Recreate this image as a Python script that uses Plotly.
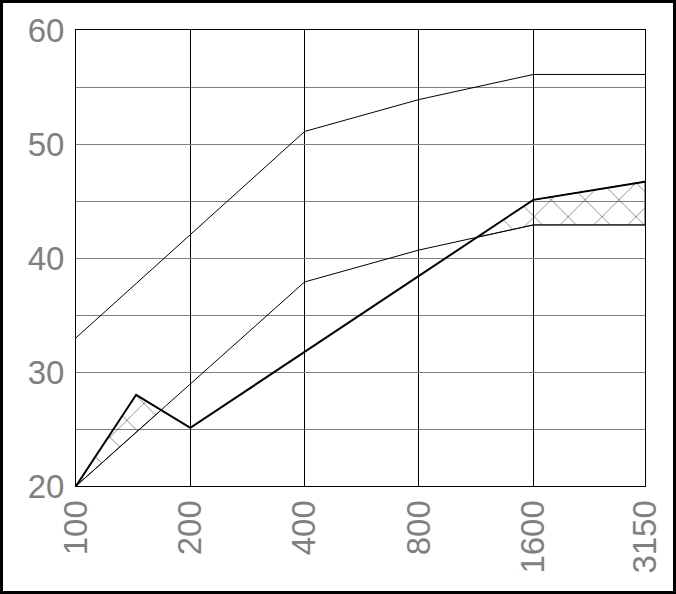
import numpy as np
import plotly.graph_objects as go

# frequency axis
freq_ticks = [100, 200, 400, 800, 1600, 3150]
tick_text = ['100', '200', '400', '800', '1600', '3150']

# upper thin curve
upper_x = [100, 400, 800, 1600, 3150]
upper_y = [33.0, 51.1, 53.9, 56.1, 56.1]

# lower thin curve (reference)
ref_x = [100, 400, 800, 1600, 3150]
ref_y = [20.0, 37.9, 40.7, 42.9, 42.9]

# thick curve (measured)
meas_x = [100, 144, 200, 1600, 3150]
meas_y = [20.0, 28.0, 25.1, 45.1, 46.7]

W, H = 676, 594
L, R, T, B = 76, 31, 30, 108


def interp_log(xs, ys, xq):
    return np.interp(np.log10(xq), np.log10(xs), ys)


def hatch_regions(ax, ay, bx, by):
    """regions where curve a is above curve b, as closed polygons"""
    u = np.union1d(np.log10(ax), np.log10(bx))
    da = np.interp(u, np.log10(ax), ay) - np.interp(u, np.log10(bx), by)
    pts = [(u[0], da[0])]
    for i in range(1, len(u)):
        if da[i - 1] * da[i] < 0:
            t = da[i - 1] / (da[i - 1] - da[i])
            pts.append((u[i - 1] + t * (u[i] - u[i - 1]), 0.0))
        pts.append((u[i], da[i]))
    regions, cur = [], []
    for uu, d in pts:
        if d >= -1e-9:
            cur.append(uu)
        else:
            if len(cur) > 1:
                regions.append(cur)
            cur = []
    if len(cur) > 1:
        regions.append(cur)
    polys = []
    for reg in regions:
        xu = 10 ** np.array(reg)
        top = interp_log(ax, ay, xu)
        bot = interp_log(bx, by, xu)
        polys.append((np.concatenate([xu, xu[::-1]]),
                      np.concatenate([top, bot[::-1]])))
    return polys


fig = go.Figure()

for px, py in hatch_regions(meas_x, meas_y, ref_x, ref_y):
    fig.add_trace(go.Scatter(
        x=px, y=py, mode='lines', fill='toself',
        line=dict(width=1, color='#444444'),
        fillcolor='rgba(0,0,0,0)',
        fillpattern=dict(shape='x', size=24, solidity=0.08,
                         fgcolor='#222222', bgcolor='rgba(0,0,0,0)'),
        hoverinfo='skip', showlegend=False
    ))

fig.add_trace(go.Scatter(x=upper_x, y=upper_y, mode='lines',
                         line=dict(color='black', width=1), showlegend=False))
fig.add_trace(go.Scatter(x=ref_x, y=ref_y, mode='lines',
                         line=dict(color='black', width=1), showlegend=False))
fig.add_trace(go.Scatter(x=meas_x, y=meas_y, mode='lines',
                         line=dict(color='black', width=2), showlegend=False))

pw, ph = W - L - R, H - T - B
fig.add_shape(type='rect', xref='paper', yref='paper',
              x0=(-L + 1.5) / pw, x1=(W - L - 1.5) / pw,
              y0=(-B + 1.5) / ph, y1=(H - B - 1.5) / ph,
              line=dict(color='black', width=3), layer='above')

fig.update_layout(
    width=W, height=H,
    margin=dict(l=L, r=R, t=T, b=B, autoexpand=False),
    paper_bgcolor='white', plot_bgcolor='white',
    font=dict(family='Liberation Sans', color='#808080', size=33),
    xaxis=dict(
        type='log', range=[2, np.log10(3150)], automargin=False,
        tickvals=freq_ticks, ticktext=tick_text, tickangle=-90,
        showgrid=True, gridcolor='black', gridwidth=1,
        showline=True, linecolor='black', linewidth=1, mirror=True,
        zeroline=False, ticks='', ticklabelstandoff=0
    ),
    yaxis=dict(
        range=[20, 60], tickvals=[20, 30, 40, 50, 60], automargin=False,
        showgrid=True, gridcolor='#808080', gridwidth=1,
        minor=dict(dtick=5, showgrid=True, gridcolor='#808080', gridwidth=1),
        showline=True, linecolor='black', linewidth=1, mirror=True,
        zeroline=False, ticks='', ticklabelstandoff=4
    )
)

fig.write_html("out.html", config={'displayModeBar': False},
               post_script="document.body.style.margin='0';")
